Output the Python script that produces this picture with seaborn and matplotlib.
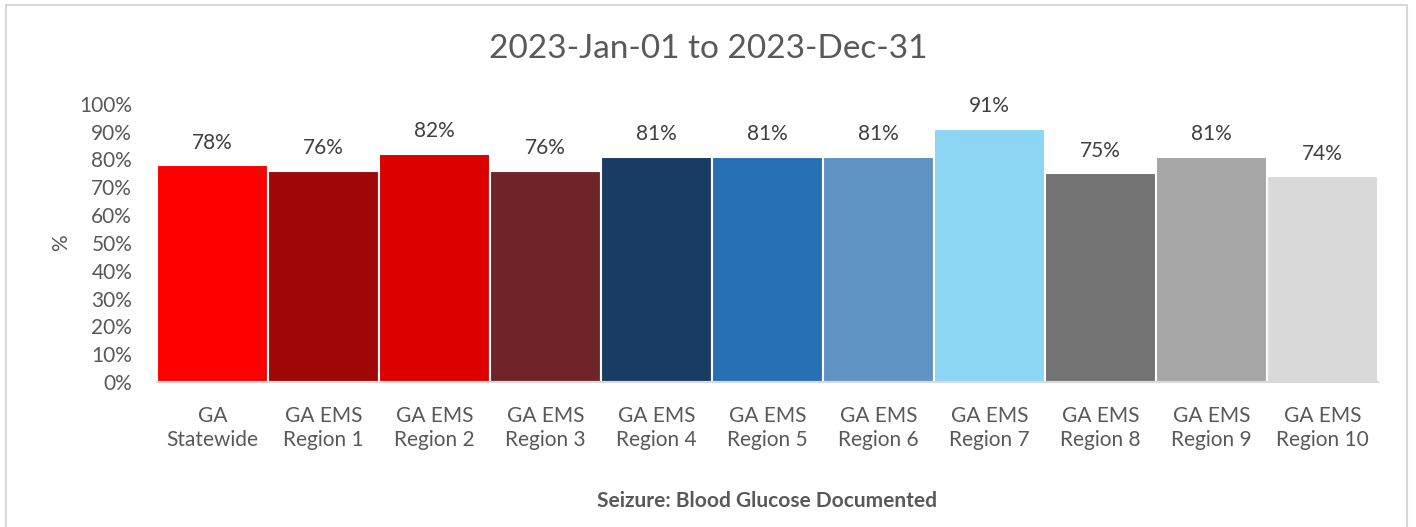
import numpy as np
import pandas as pd
import matplotlib
matplotlib.use("Agg")
import matplotlib.pyplot as plt
import seaborn as sns
from matplotlib.patches import Rectangle
from matplotlib.ticker import FuncFormatter

# data
regions = ["GA\nStatewide", "GA EMS\nRegion 1", "GA EMS\nRegion 2", "GA EMS\nRegion 3",
           "GA EMS\nRegion 4", "GA EMS\nRegion 5", "GA EMS\nRegion 6", "GA EMS\nRegion 7",
           "GA EMS\nRegion 8", "GA EMS\nRegion 9", "GA EMS\nRegion 10"]
pct = [78, 76, 82, 76, 81, 81, 81, 91, 75, 81, 74]
bar_colors = ["#FF0000", "#A00808", "#DD0000", "#6F2528", "#193C63", "#2870B4",
              "#5F93C4", "#8CD6F4", "#737373", "#A6A6A6", "#D9D9D9"]

df = pd.DataFrame({"region": regions, "pct": pct})

sns.set_style("white")
plt.rcParams["font.family"] = ["Lato", "DejaVu Sans"]

fig = plt.figure(figsize=(14.16, 5.27), dpi=100)
ax = fig.add_axes([0.111, 0.275, 0.862, 0.528])

sns.barplot(data=df, x="region", y="pct", hue="region", palette=bar_colors,
            saturation=1, legend=False, width=1.0, edgecolor="white",
            linewidth=1.5, ax=ax)

for c in ax.containers:
    ax.bar_label(c, fmt="%d%%", padding=9, fontsize=15, color="#404040")

ax.set_ylim(0, 100)
ax.set_yticks(np.arange(0, 101, 10))
ax.yaxis.set_major_formatter(FuncFormatter(lambda v, p: f"{v:.0f}%"))
ax.set_xlim(-0.5, len(regions) - 0.5)
ax.tick_params(axis="both", length=0, labelsize=15, colors="#595959")
ax.tick_params(axis="x", pad=17)
ax.tick_params(axis="y", pad=18)
for lbl in ax.get_xticklabels():
    lbl.set_linespacing(1.25)

for s in ["top", "right", "left"]:
    ax.spines[s].set_visible(False)
ax.spines["bottom"].set_color("#D9D9D9")
ax.spines["bottom"].set_linewidth(1.5)

ax.set_ylabel("%", fontsize=15, color="#595959", labelpad=6)
ax.set_xlabel("Seizure: Blood Glucose Documented", fontsize=15, fontweight="bold",
              color="#595959", labelpad=30)
fig.suptitle("2023-Jan-01 to 2023-Dec-31", y=0.935, fontsize=24, color="#595959")

fig.patches.append(Rectangle((6 / 1416, -0.02), 1401 / 1416, 1.02 - 5 / 527,
                             transform=fig.transFigure, fill=False,
                             edgecolor="#D9D9D9", linewidth=1.5))

fig.savefig("out.png", dpi=100, facecolor="white")
